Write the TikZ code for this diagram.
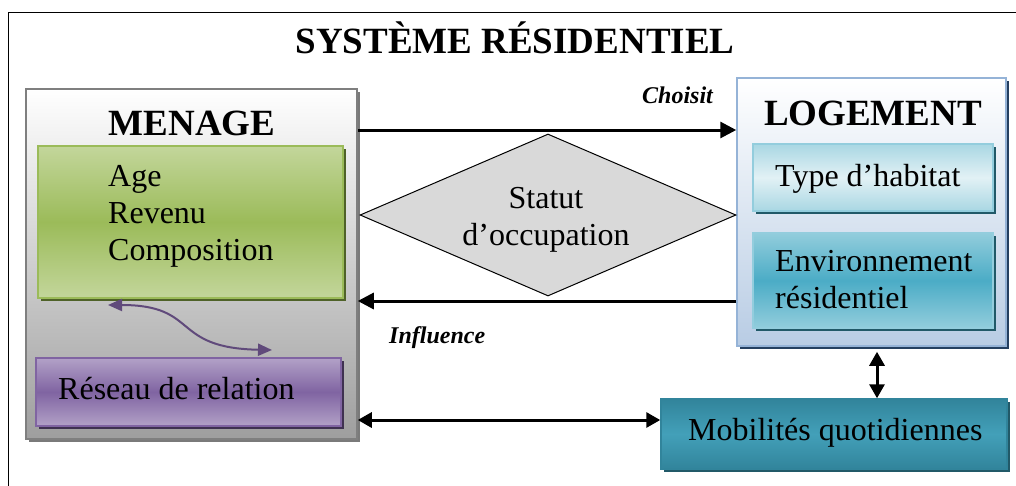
\documentclass[tikz,border=0pt]{standalone}
\usepackage{fontspec}
\setmainfont{Liberation Serif}
\usetikzlibrary{shapes.geometric,shadows,arrows.meta}
\definecolor{menagetop}{HTML}{FFFFFF}
\definecolor{menagebot}{HTML}{9E9E9E}
\definecolor{menageline}{HTML}{7F7F7F}
\definecolor{menageshadow}{HTML}{7A7A7A}
\definecolor{vertclair}{HTML}{C3D69B}
\definecolor{vertfonce}{HTML}{9BBB59}
\definecolor{vertshadow}{HTML}{4F6228}
\definecolor{violetclair}{HTML}{B2A1C7}
\definecolor{violetfonce}{HTML}{8064A2}
\definecolor{violetshadow}{HTML}{3F3151}
\definecolor{violetfleche}{HTML}{604A7B}
\definecolor{bleutop}{HTML}{FFFFFF}
\definecolor{bleubot}{HTML}{B8CCE4}
\definecolor{bleuline}{HTML}{95B3D7}
\definecolor{bleushadow}{HTML}{243F60}
\definecolor{cyanclair}{HTML}{A9D7E3}
\definecolor{cyanblanc}{HTML}{E2F1F5}
\definecolor{cyanline}{HTML}{93CDDD}
\definecolor{cyanmoyen}{HTML}{92CDDC}
\definecolor{cyanfonce}{HTML}{4BACC6}
\definecolor{tealfonce}{HTML}{31849B}
\definecolor{tealmid}{HTML}{43A0B9}
\definecolor{tealshadow}{HTML}{215968}
\definecolor{losange}{HTML}{D9D9D9}
\begin{document}
\begin{tikzpicture}[x=1pt,y=-1pt,
	box/.style={rectangle,inner sep=0pt,line width=1.5pt},
	menagebox/.style={box,draw=menageline,top color=menagetop,bottom color=menagebot,
		drop shadow={shadow xshift=3pt,shadow yshift=-3pt,fill=menageshadow,opacity=1}},
	vertbox/.style={box,draw=vertfonce,top color=vertclair,bottom color=vertclair,middle color=vertfonce,
		drop shadow={shadow xshift=3pt,shadow yshift=-3pt,fill=vertshadow,opacity=1}},
	violetbox/.style={box,draw=violetfonce,top color=violetclair,bottom color=violetclair,middle color=violetfonce,
		drop shadow={shadow xshift=3pt,shadow yshift=-3pt,fill=violetshadow,opacity=1}},
	logebox/.style={box,draw=bleuline,top color=bleutop,bottom color=bleubot,
		drop shadow={shadow xshift=3pt,shadow yshift=-3pt,fill=bleushadow,opacity=1}},
	typebox/.style={box,draw=cyanline,top color=cyanclair,bottom color=cyanclair,middle color=cyanblanc,
		drop shadow={shadow xshift=3pt,shadow yshift=-3pt,fill=tealshadow,opacity=1}},
	envbox/.style={box,draw=cyanline,top color=cyanmoyen,bottom color=cyanmoyen,middle color=cyanfonce,
		drop shadow={shadow xshift=3pt,shadow yshift=-3pt,fill=tealshadow,opacity=1}},
	mobbox/.style={box,draw=tealfonce,top color=tealfonce,bottom color=tealfonce,middle color=tealmid,
		drop shadow={shadow xshift=3pt,shadow yshift=-3pt,fill=tealshadow,opacity=1}},
	titre/.style={inner sep=0pt,font=\fontsize{37}{40}\selectfont\bfseries},
	texte/.style={inner sep=0pt,font=\fontsize{32}{37}\selectfont},
	verbe/.style={inner sep=0pt,font=\fontsize{24}{28}\selectfont\bfseries\itshape},
	fleche/.style={line width=3pt,-{Triangle[length=16pt,width=16pt]}},
	doublefleche/.style={line width=3pt,{Triangle[length=14pt,width=15pt]}-{Triangle[length=14pt,width=15pt]}},
	relfleche/.style={violetfleche,line width=2pt,{Triangle[length=14pt,width=12pt]}-{Triangle[length=14pt,width=12pt]}}]
\useasboundingbox (0,0) rectangle (1016,485);
\draw[line width=1pt] (8,495) -- (8,12) -- (1030,12);
\node[titre,anchor=base] (systeme) at (515,53) {SYSTÈME RÉSIDENTIEL};

\node[menagebox,minimum width=331pt,minimum height=350pt] (menage) at (191.5,264) {};
\node[vertbox,minimum width=305pt,minimum height=152pt] (carac) at (190.5,222) {};
\node[violetbox,minimum width=305pt,minimum height=68pt] (reseau) at (188.5,392) {};
\node[titre,anchor=base] (menagetxt) at (192,135) {MENAGE};
\node[texte,anchor=base west,align=left] (caractxt) at (108,260) {Age\\Revenu\\Composition};
\node[texte,anchor=base west] (reseautxt) at (58,399) {Réseau de relation};

\node[logebox,minimum width=269pt,minimum height=268pt] (logement) at (871.5,212) {};
\node[typebox,minimum width=240pt,minimum height=67pt] (type) at (873,177.5) {};
\node[envbox,minimum width=240pt,minimum height=95pt] (env) at (873,280.5) {};
\node[titre,anchor=base] (logetxt) at (873,125) {LOGEMENT};
\node[texte,anchor=base west] (typetxt) at (775,186) {Type d’habitat};
\node[texte,anchor=base west,align=left] (envtxt) at (775,308) {Environnement\\résidentiel};

\node[mobbox,minimum width=346pt,minimum height=70pt] (mobilite) at (834,434) {};
\node[texte,anchor=base west] (mobtxt) at (688,440) {Mobilités quotidiennes};

\node[diamond,draw,line width=1pt,fill=losange,inner sep=0pt,minimum width=376pt,minimum height=162pt] (statut) at (548,215) {};
\node[texte,anchor=base,align=center] (statuttxt) at (546,245) {Statut\\d’occupation};

\node[verbe,anchor=base west] (choisit) at (642,103) {Choisit};
\node[verbe,anchor=base west] (influence) at (389,343) {Influence};

\draw[fleche] (menage.east |- 0,130) -- (logement.west |- 0,130);
\draw[fleche] (logement.west |- 0,301) -- (menage.east |- 0,301);
\draw[doublefleche] (menage.east |- 0,420) -- (mobilite.west |- 0,420);
\draw[doublefleche,shorten <=5pt] (877,0 |- logement.south) -- (877,0 |- mobilite.north);
\coordinate (r1) at (108,305);
\coordinate (r2) at (272,350);
\draw[relfleche] (r1) .. controls (200,305) and (170,348) .. (r2);
\end{tikzpicture}
\end{document}
